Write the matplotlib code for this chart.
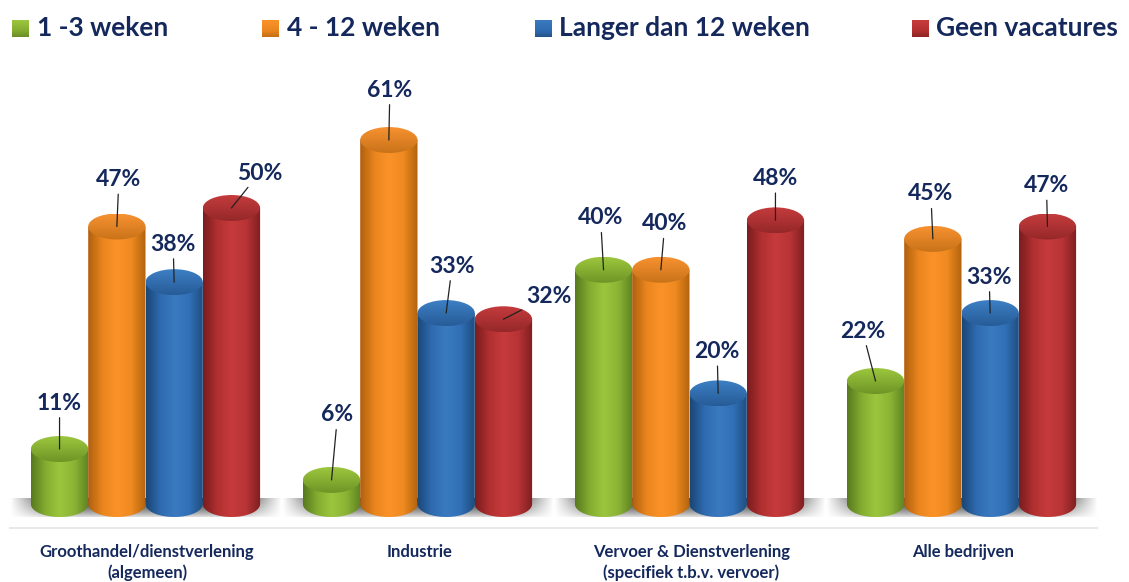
import numpy as np
import matplotlib

matplotlib.use("Agg")
import matplotlib.pyplot as plt
from matplotlib.colors import LinearSegmentedColormap
from matplotlib.patches import Ellipse, Polygon

plt.rcParams["font.family"] = ["Lato", "DejaVu Sans"]

# data
groups = ["Groothandel/dienstverlening\n(algemeen)", "Industrie",
          "Vervoer & Dienstverlening\n(specifiek t.b.v. vervoer)", "Alle bedrijven"]
series = ["1 -3 weken", "4 - 12 weken", "Langer dan 12 weken", "Geen vacatures"]
week_1_3 = [11, 6, 40, 22]
week_4_12 = [47, 61, 40, 45]
week_12_plus = [38, 33, 20, 33]
no_vacancy = [50, 32, 48, 47]

W, H = 1129, 582
NAVY = "#14285c"
# edge, main, highlight, main, edge
ramps = [["#587a1e", "#84ad30", "#9cc53e", "#8cb434", "#5f8322"],
         ["#b0600f", "#ea861f", "#fb9228", "#ee8a20", "#b3640f"],
         ["#1b4778", "#2f6bb0", "#3a7abf", "#3170b6", "#1e4d80"],
         ["#7a1d1f", "#b23031", "#c63b3c", "#b83335", "#7e1f21"]]
stops = [0, 0.25, 0.5, 0.75, 1]
tops = [["#6f9526", "#9cc63e"], ["#c9731a", "#f79130"],
        ["#275c98", "#3d7fc4"], ["#96282a", "#c43b3c"]]

# label offsets from the bar top in px, per group, per series
offsets = [[(0, -46), (2, -47), (-1, -38), (28, -35)],
           [(6, -65), (1, -50), (6, -47), (45, -23)],
           [(-3, -52), (4, -46), (-1, -42), (0, -42)],
           [(-13, -50), (-2, -45), (-1, -36), (-1, -41)]]

fig = plt.figure(figsize=(W / 100, H / 100), dpi=100)
ax = fig.add_axes([0, 0, 1, 1])
ax.axis("off")

# x: 1 unit is 272 px, group 0 at px 145.5 / y: 1% is 6.18 px, zero at px 517
xlim = (-145.5 / 272, (W - 145.5) / 272)
ylim = (-(H - 517) / 6.18, 517 / 6.18)
bar_w = 57.3 / 272
cap = 2.1  # half height of the ellipse in %
values = [week_1_3, week_4_12, week_12_plus, no_vacancy]

# floor shadow
fade = np.minimum(np.minimum(np.linspace(0, 1, 300) * 6, np.linspace(1, 0, 300) * 6), 1)
vert = np.linspace(0.75, 0.05, 40)[:, None] ** 0.7
shadow = 1 - vert * fade[None, :]
for i in range(len(groups)):
    ax.imshow(shadow, extent=(i - 0.5, i + 0.5, 0, 3), cmap="gray", vmin=0, vmax=1,
              aspect="auto", zorder=1)

ax.plot([xlim[0] + 10 / 272, xlim[0] + 1097 / 272], [-1.8, -1.8], color="#e8e8e8", lw=1.5, zorder=1)

for s, vals in enumerate(values):
    cmap = LinearSegmentedColormap.from_list("c", list(zip(stops, ramps[s])))
    top_cmap = LinearSegmentedColormap.from_list("t", tops[s])
    for g, v in enumerate(vals):
        x = g + (s - 1.5) * bar_w
        x0, x1 = x - bar_w / 2, x + bar_w / 2
        t = np.linspace(np.pi, 2 * np.pi, 40)
        bottom = np.c_[x + bar_w / 2 * np.cos(t), cap + cap * np.sin(t)]
        body = np.vstack([bottom, [[x1, v], [x0, v]]])
        clip = Polygon(body, closed=True, transform=ax.transData)
        im = ax.imshow(np.linspace(0, 1, 80)[None, :], extent=(x0, x1, 0, v), cmap=cmap,
                       aspect="auto", zorder=3 + s * 0.1, interpolation="bilinear")
        im.set_clip_path(clip)
        ell = Ellipse((x, v), bar_w, 2 * cap, transform=ax.transData)
        im2 = ax.imshow(np.linspace(1, 0, 30)[:, None], extent=(x0, x1, v - cap, v + cap), cmap=top_cmap,
                        aspect="auto", zorder=3.05 + s * 0.1, interpolation="bilinear")
        im2.set_clip_path(ell)
        dx, dy = offsets[g][s]
        ax.annotate(f"{v}%", xy=(x, v), xytext=(dx * 0.72, -dy * 0.72), textcoords="offset points",
                    ha="center", va="center", fontsize=16.5, color=NAVY, fontweight="bold",
                    arrowprops=dict(arrowstyle="-", color="#222222", lw=0.9, shrinkA=1, shrinkB=0),
                    zorder=6)

for g, name in enumerate(groups):
    ax.text(g + 0.006, -4.4, name, ha="center", va="top", fontsize=12, color=NAVY, fontweight="bold",
            linespacing=1.3)

# legend, drawn in figure pixels
legend_x = [12, 262, 535, 912]
text_x = [37, 287, 559, 936]
for s, name in enumerate(series):
    cmap = LinearSegmentedColormap.from_list("c", ramps[s][:3])
    lax = fig.add_axes([legend_x[s] / W, 1 - 37 / H, 17 / W, 17 / H])
    lax.imshow(np.linspace(1, 0.2, 20)[:, None], cmap=cmap, aspect="auto", vmin=0, vmax=1)
    lax.axis("off")
    fig.text(text_x[s] / W, 1 - 28 / H, name, ha="left", va="center", fontsize=19, color=NAVY,
             fontweight="bold")

ax.set_xlim(xlim)
ax.set_ylim(ylim)
fig.savefig("out.png", dpi=100)
